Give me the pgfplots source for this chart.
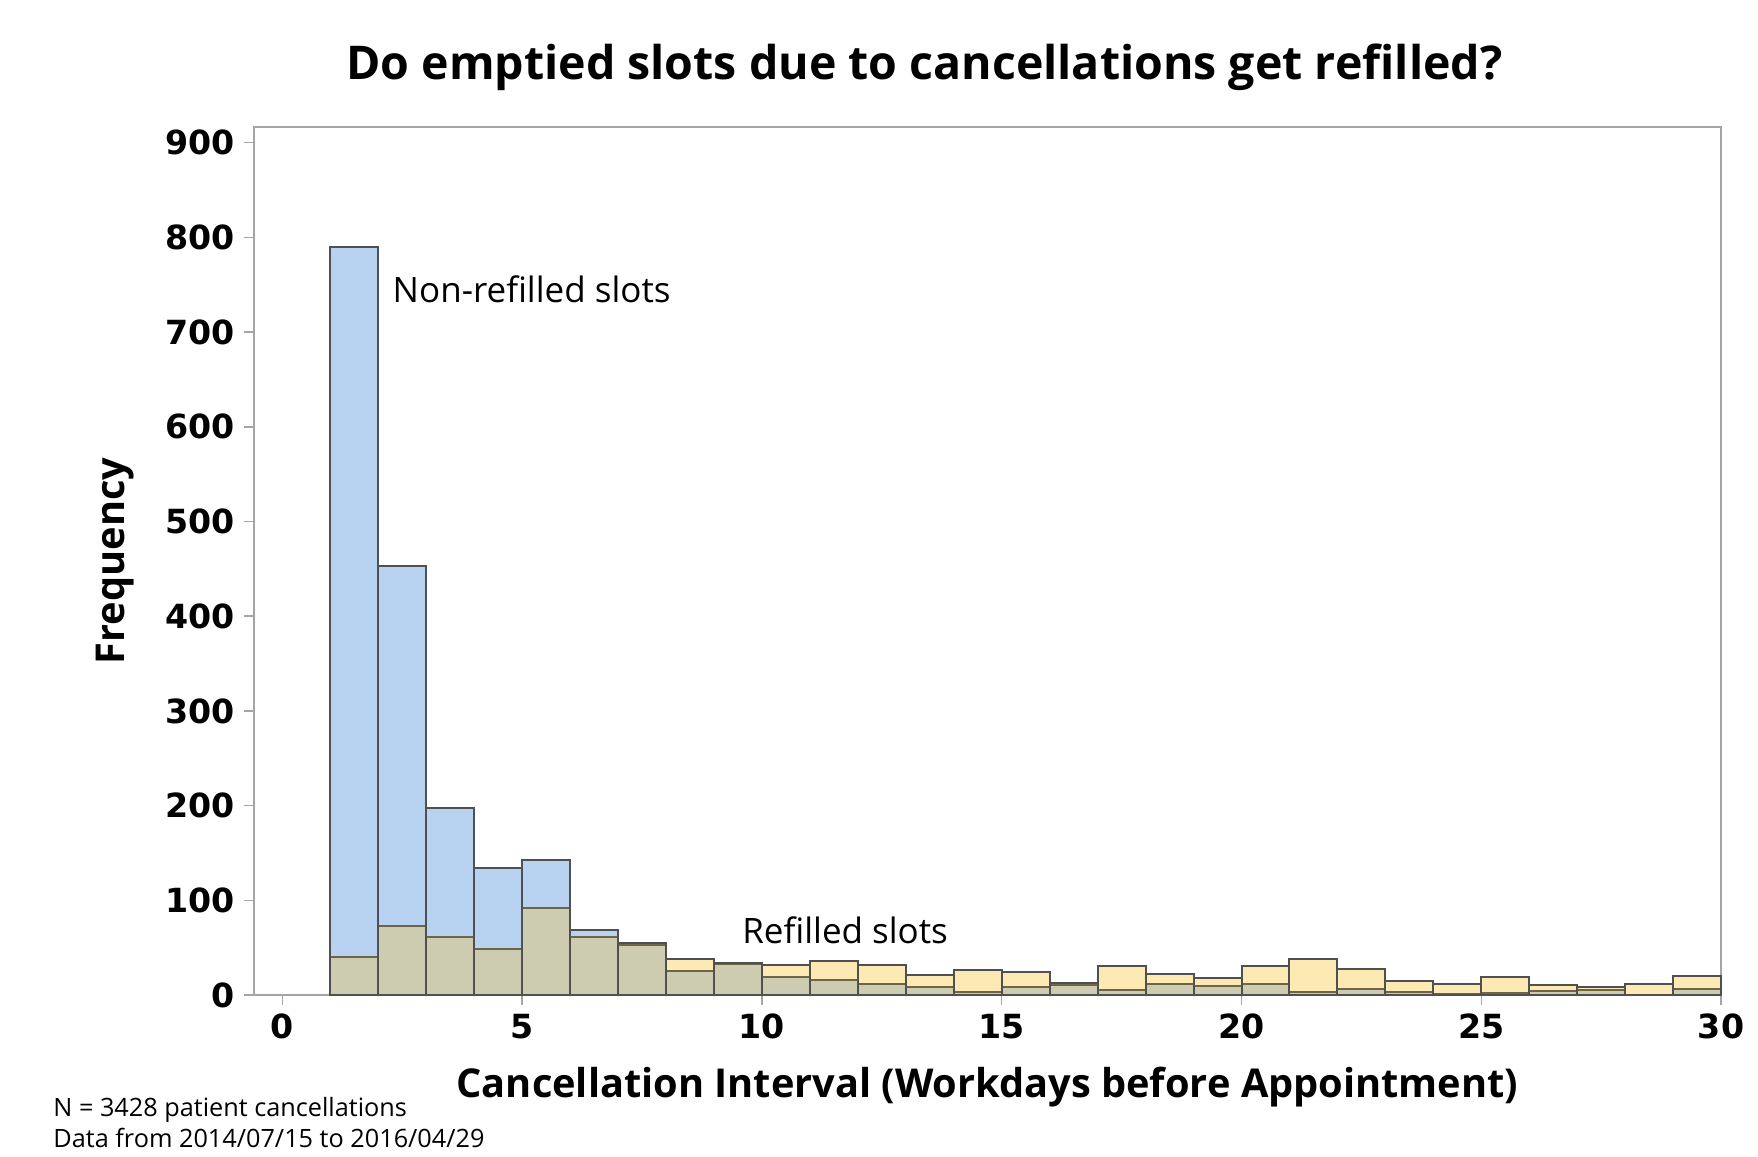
\documentclass[border=0pt]{standalone}
\usepackage{fontspec}
\setmainfont{Open Sans}
\newfontfamily\tickfont{DejaVu Sans}
\usepackage{pgfplots}
\pgfplotsset{compat=1.18}
\definecolor{barblue}{RGB}{184,210,242}
\definecolor{baryellow}{RGB}{253,233,180}
\definecolor{bargrey}{RGB}{205,203,176}
\definecolor{edge}{RGB}{80,80,80}
\definecolor{inner}{RGB}{110,100,70}
\definecolor{framec}{RGB}{165,165,165}
\begin{document}
\begin{tikzpicture}
\begin{axis}[
  scale only axis,
  width=586.8pt, height=347.2pt,
  xmin=-0.594, xmax=30,
  ymin=0, ymax=916.5,
  xtick={0,5,...,30},
  ytick={0,100,...,900},
  axis line style={framec, line width=0.6pt},
  tick style={framec, line width=0.6pt},
  tick align=outside,
  major tick length=4pt,
  xtick pos=bottom, ytick pos=left,
  /pgf/number format/assume math mode=true,
  ticklabel style={font=\tickfont\bfseries\fontsize{13.3}{16}\selectfont, text=black},
  clip=false,
]
% Refilled slots
\addplot[ybar interval, fill=baryellow, draw=edge, line width=0.8pt] coordinates {
(1,40) (2,73) (3,61) (4,49) (5,92) (6,61) (7,55) (8,38) (9,34) (10,32)
(11,36) (12,32) (13,21) (14,26) (15,24) (16,13) (17,31) (18,22) (19,18) (20,31)
(21,38) (22,27) (23,15) (24,12) (25,19) (26,11) (27,8) (28,12) (29,20) (30,0)};
% Non-refilled slots
\addplot[ybar interval, fill=barblue, draw=edge, line width=0.8pt] coordinates {
(1,790) (2,453) (3,197) (4,134) (5,143) (6,69) (7,53) (8,25) (9,33) (10,19)
(11,16) (12,12) (13,9) (14,3) (15,9) (16,11) (17,5) (18,12) (19,10) (20,12)
(21,3) (22,6) (23,3) (24,1) (25,2) (26,4) (27,5) (28,0) (29,6) (30,0)};
% Overlap of the two
\addplot[ybar interval, fill=bargrey, draw=inner, line width=0.8pt] coordinates {
(1,40) (2,73) (3,61) (4,49) (5,92) (6,61) (7,53) (8,25) (9,33) (10,19)
(11,16) (12,12) (13,9) (14,3) (15,9) (16,11) (17,5) (18,12) (19,10) (20,12)
(21,3) (22,6) (23,3) (24,1) (25,2) (26,4) (27,5) (28,0) (29,6) (30,0)};
% redraw outer outlines
\addplot[ybar interval, fill=none, draw=edge, line width=0.8pt] coordinates {
(1,790) (2,453) (3,197) (4,134) (5,143) (6,69) (7,55) (8,38) (9,34) (10,32)
(11,36) (12,32) (13,21) (14,26) (15,24) (16,13) (17,31) (18,22) (19,18) (20,31)
(21,38) (22,27) (23,15) (24,12) (25,19) (26,11) (27,8) (28,12) (29,20) (30,0)};
\node[anchor=west, inner sep=0pt, font=\fontsize{14}{17}\selectfont] at (axis cs:2.29,745) {Non-refilled slots};
\node[anchor=west, inner sep=0pt, font=\fontsize{14}{17}\selectfont] at (axis cs:9.58,68) {Refilled slots};
\node[anchor=south, font=\bfseries\fontsize{18.6}{22}\selectfont] at (rel axis cs:0.457,1) [yshift=11pt] {Do emptied slots due to cancellations get refilled?};
\node[anchor=center, font=\bfseries\fontsize{15.9}{19}\selectfont] at (rel axis cs:0.5,0) [yshift=-36.8pt] {Cancellation Interval (Workdays before Appointment)};
\node[anchor=center, rotate=90, font=\bfseries\fontsize{15.9}{19}\selectfont] at (rel axis cs:-0.0944,0.5) {Frequency};
\node[anchor=north west, align=left, font=\fontsize{10.1}{12.4}\selectfont, inner sep=0pt] at (rel axis cs:-0.137,-0.117) {N = 3428 patient cancellations\\Data from 2014/07/15 to 2016/04/29};
\path (rel axis cs:-0.1731,-0.1855) rectangle (rel axis cs:1.0252,1.1463);
\end{axis}
\end{tikzpicture}
\end{document}
